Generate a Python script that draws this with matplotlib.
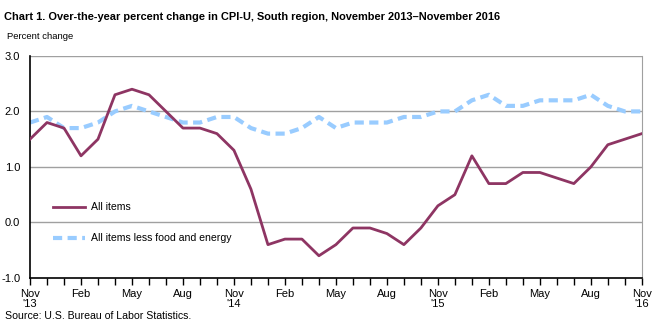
import matplotlib
matplotlib.use("Agg")
from matplotlib import pyplot as plt
import numpy as np

plt.rcParams['font.family'] = ['Liberation Sans', 'DejaVu Sans']

# monthly values, Nov 2013 .. Nov 2016
all_items = [1.5, 1.8, 1.7, 1.2, 1.5, 2.3, 2.4, 2.3, 2.0, 1.7, 1.7, 1.6,
             1.3, 0.6, -0.4, -0.3, -0.3, -0.6, -0.4, -0.1, -0.1, -0.2, -0.4, -0.1,
             0.3, 0.5, 1.2, 0.7, 0.7, 0.9, 0.9, 0.8, 0.7, 1.0, 1.4, 1.5, 1.6]
core = [1.8, 1.9, 1.7, 1.7, 1.8, 2.0, 2.1, 2.0, 1.9, 1.8, 1.8, 1.9,
        1.9, 1.7, 1.6, 1.6, 1.7, 1.9, 1.7, 1.8, 1.8, 1.8, 1.9, 1.9,
        2.0, 2.0, 2.2, 2.3, 2.1, 2.1, 2.2, 2.2, 2.2, 2.3, 2.1, 2.0, 2.0]
tick_labels = ["Nov\n'13", "Feb", "May", "Aug", "Nov\n'14", "Feb", "May", "Aug",
               "Nov\n'15", "Feb", "May", "Aug", "Nov\n'16"]
y_ticks = [-1.0, 0.0, 1.0, 2.0, 3.0]

x = np.arange(len(all_items))

fig = plt.figure(figsize=(6.61, 3.27), dpi=100)
ax = fig.add_axes([0.0454, 0.150, 0.9256, 0.679])

for v in y_ticks[1:]:
    ax.axhline(v, color='#a0a0a0', lw=1.0, zorder=1)

ax.plot(x, all_items, color='#8e3563', lw=2.0, label='All items', zorder=3)
ax.plot(x, core, color='#99ccff', lw=3.0, ls=(0, (2.2, 1.3)), label='All items less food and energy', zorder=2)

ax.set_xlim(0, len(all_items) - 1)
ax.set_ylim(-1.0, 3.0)
ax.set_yticks(y_ticks)
ax.set_yticklabels(['%.1f' % v for v in y_ticks], fontsize=8)
ax.tick_params(axis='y', length=0, pad=7)
ax.set_xticks(x, minor=True)
ax.set_xticks(x[::3])
ax.set_xticklabels(tick_labels, fontsize=8, linespacing=1.0)
ax.tick_params(axis='x', which='both', direction='out', length=5, width=1, color='black', pad=3)

ax.spines['top'].set_visible(False)
ax.spines['right'].set_color('#a0a0a0')
ax.spines['left'].set_color('black')
ax.spines['bottom'].set_color('black')
ax.spines['left'].set_linewidth(1.2)
ax.spines['bottom'].set_linewidth(1.2)

ax.legend(loc='center left', bbox_to_anchor=(0.0376, 0.248), frameon=False, fontsize=7.6,
          handlelength=3.0, labelspacing=2.0, handletextpad=0.6, borderpad=0, borderaxespad=0)

fig.text(0.006, 0.947, "Chart 1. Over-the-year percent change in CPI-U, South region, November 2013\u2013November 2016",
         fontsize=7.9, fontweight='bold', ha='left', va='center')
fig.text(0.011, 0.888, "Percent change", fontsize=6.8, ha='left', va='center')
fig.text(0.008, 0.035, "Source: U.S. Bureau of Labor Statistics.", fontsize=7.6, ha='left', va='center')

fig.savefig("out.png", dpi=100)
